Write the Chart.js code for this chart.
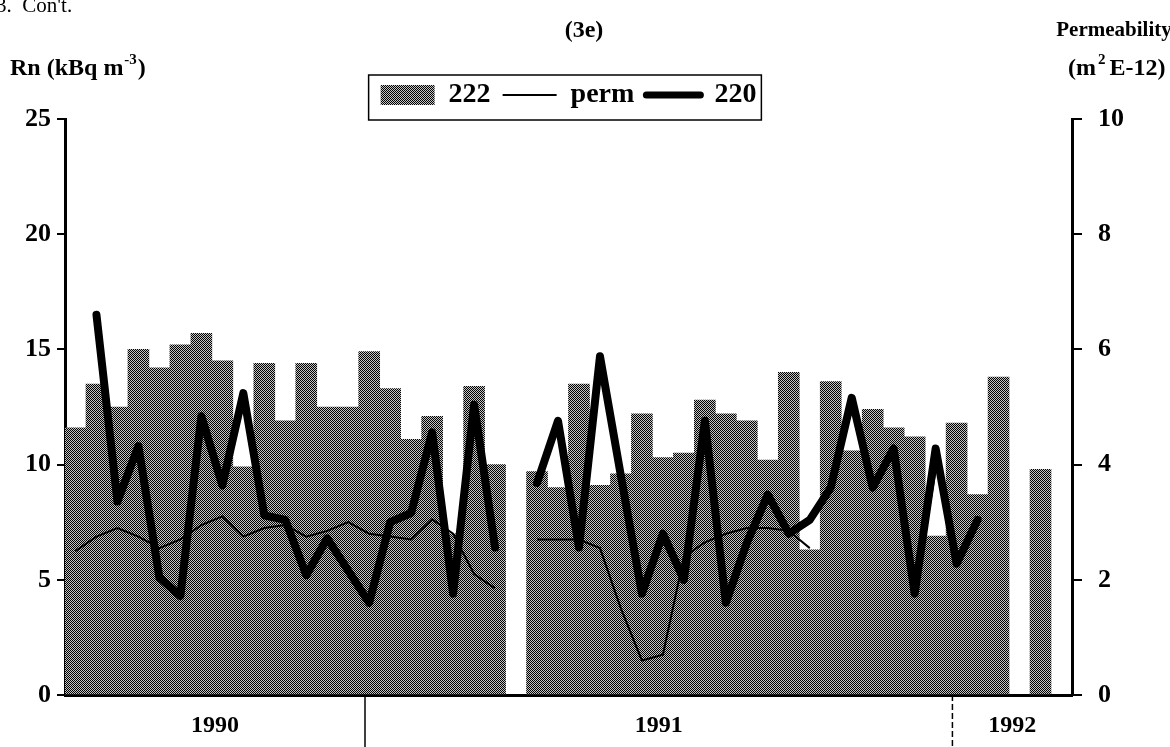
<!DOCTYPE html>
<html>
<head>
<meta charset="utf-8">
<script src="https://cdn.jsdelivr.net/npm/chart.js@4.4.1/dist/chart.umd.min.js"></script>
<style>
  html, body { margin: 0; padding: 0; background: #fff; }
  #contenedor { width: 1170px; height: 747px; }
</style>
</head>
<body>
<div id="contenedor"><canvas id="grafico"></canvas></div>
<script>
// Muestreos (48 huecos en el eje x)
const muestras = [];
for (let i = 1; i <= 48; i++) muestras.push(String(i));

// Rn-222 (kBq m-3), barras
const rn222 = [11.6, 13.5, 12.5, 15.0, 14.2, 15.2, 15.7, 14.5, 9.9, 14.4,
  11.9, 14.4, 12.5, 12.5, 14.9, 13.3, 11.1, 12.1, 7.0, 13.4,
  10.0, null, 9.7, 9.0, 13.5, 9.1, 9.6, 12.2, 10.3, 10.5,
  12.8, 12.2, 11.9, 10.2, 14.0, 6.3, 13.6, 10.6, 12.4, 11.6,
  11.2, 6.9, 11.8, 8.7, 13.8, null, 9.8, null];

// Permeabilidad (m2 E-12), linea fina, eje derecho
const perm = [2.5, 2.75, 2.9, 2.75, 2.55, 2.7, 2.95, 3.1, 2.75, 2.9,
  2.95, 2.75, 2.85, 3.0, 2.8, 2.75, 2.7, 3.05, 2.8, 2.1,
  1.85, null, 2.7, 2.7, 2.7, 2.55, 1.5, 0.6, 0.7, 2.4,
  2.65, 2.8, 2.9, 2.9, 2.85, 2.55, null, null, null, null,
  1.7, 3.9, null, null, null, null, null, null];

// Rn-220 (kBq m-3), linea gruesa
const rn220 = [null, 16.5, 8.4, 10.8, 5.1, 4.3, 12.1, 9.1, 13.1, 7.8,
  7.6, 5.2, 6.8, 5.4, 4.0, 7.5, 7.9, 11.4, 4.4, 12.6,
  6.4, null, 9.2, 11.9, 6.4, 14.7, 9.5, 4.4, 7.0, 5.0,
  11.9, 4.0, 6.6, 8.7, 7.0, 7.6, 9.0, 12.9, 9.0, 10.7,
  4.4, 10.7, 5.7, 7.6, null, null, null, null];

// Etiquetas de anio y cortes (en unidades de hueco)
const anios = ['1990', '1991', '1992'];
const cortesAnio = [13.8, 41.8];

const serif = "'Liberation Serif', 'DejaVu Serif', serif";

const lienzo = document.getElementById('grafico');
const ctxPrincipal = lienzo.getContext('2d');

// Trama de puntos para las barras (tipo fotocopia)
function crearTrama() {
  const c = document.createElement('canvas');
  c.width = 2; c.height = 2;
  const g = c.getContext('2d');
  g.fillStyle = '#c4c4c4';
  g.fillRect(0, 0, 2, 2);
  g.fillStyle = '#000000';
  g.fillRect(0, 0, 1, 1);
  g.fillRect(1, 1, 1, 1);
  return ctxPrincipal.createPattern(c, 'repeat');
}
const trama = crearTrama();

// Textos fuera del area y separadores de anio
const textosExtra = {
  id: 'textosExtra',
  afterDraw(chart) {
    const ctx = chart.ctx;
    const x = chart.scales.x;
    const area = chart.chartArea;
    ctx.save();
    ctx.fillStyle = '#000';
    ctx.strokeStyle = '#000';

    // marco de la leyenda
    const cajas = chart.legend.legendHitBoxes;
    if (cajas && cajas.length) {
      const izq = Math.min(...cajas.map(b => b.left)) - 12;
      const der = Math.max(...cajas.map(b => b.left + b.width)) + 5;
      const arr = Math.min(...cajas.map(b => b.top)) - 6;
      const aba = area.top + 1;
      ctx.lineWidth = 1.5;
      ctx.strokeRect(izq, arr, der - izq, aba - arr);
    }

    // separadores de anio debajo del eje
    ctx.lineWidth = 1.5;
    const bordes = [area.left];
    cortesAnio.forEach((v, i) => {
      const px = x.getPixelForValue(v);
      bordes.push(px);
      ctx.setLineDash(i === 1 ? [6, 3] : []);
      ctx.beginPath();
      ctx.moveTo(px, area.bottom);
      ctx.lineTo(px, chart.height);
      ctx.stroke();
    });
    ctx.setLineDash([]);
    bordes.push(area.right);

    ctx.font = 'bold 24px ' + serif;
    ctx.textAlign = 'center';
    ctx.textBaseline = 'middle';
    anios.forEach((a, i) => {
      ctx.fillText(a, (bordes[i] + bordes[i + 1]) / 2, 726);
    });

    // titulo y titulos de ejes
    ctx.font = 'bold 24px ' + serif;
    ctx.fillText('(3e)', 584, 31);
    ctx.font = 'bold 21px ' + serif;
    ctx.fillText('Permeability', 1114, 31);

    ctx.textAlign = 'left';
    ctx.font = '21px ' + serif;
    ctx.fillText("3.  Con't.", -4, 6);

    // Rn (kBq m-3)
    ctx.font = 'bold 24px ' + serif;
    let px = 10;
    ctx.fillText('Rn (kBq m', px, 69);
    px += ctx.measureText('Rn (kBq m').width;
    ctx.font = 'bold 15px ' + serif;
    ctx.fillText('-3', px + 1, 60);
    px += ctx.measureText('-3').width + 2;
    ctx.font = 'bold 24px ' + serif;
    ctx.fillText(')', px, 69);

    // (m2 E-12)
    px = 1068;
    ctx.fillText('(m', px, 69);
    px += ctx.measureText('(m').width;
    ctx.font = 'bold 15px ' + serif;
    ctx.fillText('2', px + 2, 60);
    px += ctx.measureText('2').width + 6;
    ctx.font = 'bold 24px ' + serif;
    ctx.fillText('E-12)', px, 69);

    ctx.restore();
  }
};

const datos = {
  labels: muestras,
  datasets: [
    {
      type: 'line',
      label: '220',
      data: rn220,
      yAxisID: 'y',
      borderColor: '#000',
      borderWidth: 8,
      borderJoinStyle: 'round',
      borderCapStyle: 'round',
      pointRadius: 0,
      tension: 0,
      spanGaps: false,
      order: 1
    },
    {
      type: 'line',
      label: 'perm',
      data: perm,
      yAxisID: 'y1',
      borderColor: '#000',
      borderWidth: 2,
      pointRadius: 0,
      tension: 0,
      spanGaps: false,
      order: 2
    },
    {
      type: 'bar',
      label: '222',
      data: rn222,
      yAxisID: 'y',
      backgroundColor: trama,
      borderWidth: 0,
      barPercentage: 1,
      categoryPercentage: 1,
      order: 3
    }
  ]
};

const fuenteTicks = { family: serif, size: 26, weight: 'bold' };

const config = {
  type: 'bar',
  data: datos,
  options: {
    responsive: true,
    maintainAspectRatio: false,
    animation: false,
    layout: { padding: { top: 69, left: 0, right: 0, bottom: 0 } },
    plugins: {
      tooltip: { enabled: false },
      title: { display: false },
      legend: {
        display: true,
        position: 'top',
        fullSize: false,
        labels: {
          color: '#000',
          font: { family: serif, size: 28, weight: 'bold' },
          usePointStyle: true,
          pointStyleWidth: 54,
          boxHeight: 20,
          padding: 12,
          generateLabels: () => [
            { text: '222', fillStyle: trama, strokeStyle: 'rgba(0,0,0,0)', lineWidth: 0, pointStyle: 'rect', datasetIndex: 2 },
            { text: 'perm', fillStyle: '#000', strokeStyle: '#000', lineWidth: 2, pointStyle: 'line', datasetIndex: 1 },
            { text: '220', fillStyle: '#000', strokeStyle: '#000', lineWidth: 7, pointStyle: 'line', lineCap: 'round', datasetIndex: 0 }
          ]
        }
      }
    },
    scales: {
      x: {
        type: 'category',
        offset: true,
        grid: { display: false, drawTicks: false },
        ticks: { display: false },
        border: { display: true, color: '#000', width: 3 },
        afterFit: (s) => { s.height = 52; }
      },
      y: {
        position: 'left',
        min: 0,
        max: 25,
        ticks: { stepSize: 5, color: '#000', font: fuenteTicks, padding: 6 },
        grid: { drawOnChartArea: false, drawTicks: true, tickLength: 8, color: '#000', lineWidth: 2 },
        border: { display: true, color: '#000', width: 3 },
        afterFit: (s) => { s.width = 65; }
      },
      y1: {
        position: 'right',
        min: 0,
        max: 10,
        ticks: { stepSize: 2, color: '#000', font: fuenteTicks, padding: 16 },
        grid: { drawOnChartArea: false, drawTicks: true, tickLength: 10, color: '#000', lineWidth: 2 },
        border: { display: true, color: '#000', width: 3 },
        afterFit: (s) => { s.width = 98; }
      }
    }
  },
  plugins: [textosExtra]
};

new Chart(lienzo, config);
</script>
</body>
</html>
